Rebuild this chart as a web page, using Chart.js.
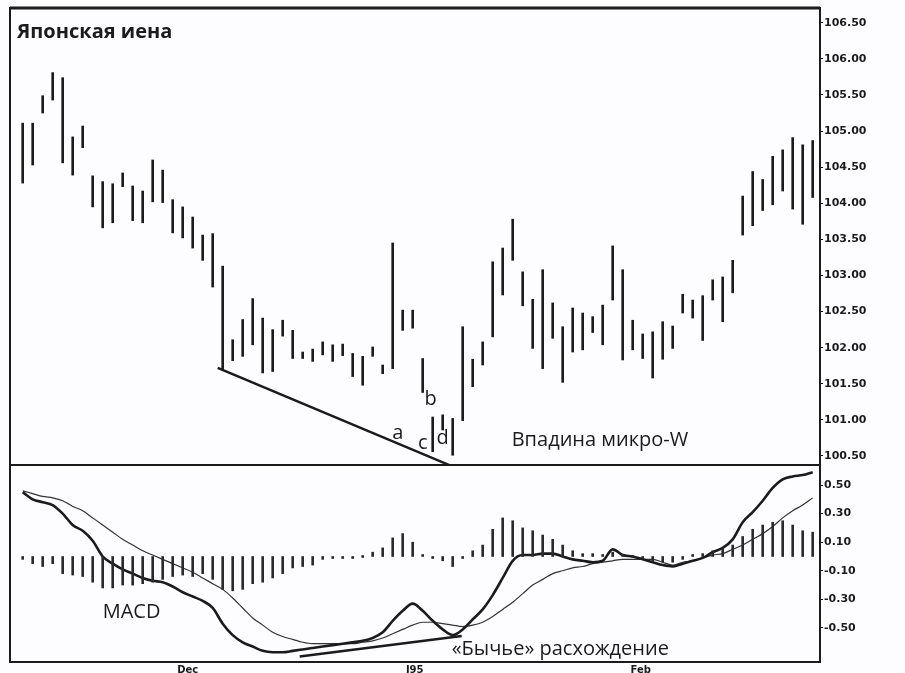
<!DOCTYPE html>
<html>
<head>
<meta charset="utf-8">
<script src="https://cdn.jsdelivr.net/npm/chart.js@4.4.1/dist/chart.umd.min.js"></script>
<style>
  body { margin: 0; background: #fdfcfe; }
  #wrap { position: relative; width: 905px; height: 673px; overflow: hidden; }
  canvas { position: absolute; left: 0; }
</style>
</head>
<body>
<div id="wrap">
  <canvas id="priceChart" width="905" height="466" style="top:0"></canvas>
  <canvas id="macdChart" width="905" height="208" style="top:465px"></canvas>
</div>
<script>
// daily bars, index 0..79
const priceHigh = [105.11, 105.11, 105.49, 105.81, 105.74, 104.92, 105.07, 104.38, 104.30, 104.27,
  104.42, 104.24, 104.17, 104.60, 104.46, 104.05, 103.95, 103.81, 103.56, 103.58,
  103.13, 102.11, 102.39, 102.68, 102.41, 102.25, 102.38, 102.24, 101.94, 101.98,
  102.08, 102.04, 102.05, 101.92, 101.88, 102.01, 101.76, 103.45, 102.52, 102.52,
  101.85, 101.04, 101.07, 101.02, 102.29, 101.84, 102.08, 103.19, 103.38, 103.78,
  103.05, 102.67, 103.08, 102.62, 102.29, 102.55, 102.48, 102.43, 102.59, 103.41,
  103.08, 102.38, 102.19, 102.22, 102.36, 102.30, 102.74, 102.66, 102.72, 102.94,
  102.98, 103.21, 104.10, 104.44, 104.33, 104.65, 104.74, 104.91, 104.81, 104.87];
const priceLow = [104.28, 104.53, 105.25, 105.43, 104.56, 104.39, 104.77, 103.95, 103.66, 103.73,
  104.23, 103.76, 103.73, 104.02, 104.01, 103.59, 103.52, 103.38, 103.21, 102.84,
  101.70, 101.82, 101.88, 102.04, 101.65, 101.67, 102.16, 101.85, 101.85, 101.81,
  101.90, 101.81, 101.89, 101.60, 101.48, 101.88, 101.64, 101.71, 102.24, 102.27,
  101.38, 100.56, 100.86, 100.51, 100.99, 101.46, 101.76, 102.15, 102.73, 103.21,
  102.58, 101.99, 101.71, 102.13, 101.52, 101.94, 101.97, 102.21, 102.04, 102.66,
  101.83, 101.97, 101.85, 101.58, 101.84, 101.99, 102.48, 102.41, 102.10, 102.66,
  102.36, 102.76, 103.56, 103.69, 103.90, 103.98, 104.17, 103.92, 103.71, 104.08];

const macdLine = [0.45, 0.40, 0.38, 0.36, 0.30, 0.22, 0.18, 0.11, 0.00, -0.05,
  -0.09, -0.12, -0.15, -0.17, -0.18, -0.21, -0.25, -0.28, -0.31, -0.36,
  -0.47, -0.55, -0.60, -0.63, -0.66, -0.67, -0.67, -0.66, -0.65, -0.64,
  -0.63, -0.62, -0.61, -0.60, -0.59, -0.57, -0.53, -0.45, -0.38, -0.33,
  -0.38, -0.45, -0.51, -0.55, -0.51, -0.44, -0.37, -0.27, -0.15, -0.03,
  0.01, 0.01, 0.02, 0.02, 0.00, -0.02, -0.03, -0.04, -0.03, 0.05,
  0.01, 0.00, -0.02, -0.04, -0.06, -0.07, -0.05, -0.03, -0.01, 0.03,
  0.06, 0.12, 0.24, 0.31, 0.39, 0.48, 0.54, 0.56, 0.57, 0.59];
const signalLine = [0.46, 0.44, 0.42, 0.41, 0.39, 0.35, 0.32, 0.27, 0.22, 0.17,
  0.12, 0.08, 0.04, 0.01, -0.02, -0.05, -0.08, -0.11, -0.15, -0.19,
  -0.23, -0.29, -0.36, -0.43, -0.48, -0.53, -0.56, -0.58, -0.60, -0.61,
  -0.61, -0.61, -0.61, -0.61, -0.60, -0.59, -0.57, -0.54, -0.51, -0.48,
  -0.46, -0.46, -0.47, -0.48, -0.49, -0.48, -0.46, -0.42, -0.37, -0.32,
  -0.26, -0.20, -0.16, -0.12, -0.10, -0.08, -0.07, -0.05, -0.04, -0.03,
  -0.02, -0.02, -0.02, -0.02, -0.04, -0.06, -0.04, -0.03, -0.01, 0.01,
  0.02, 0.05, 0.08, 0.12, 0.16, 0.21, 0.27, 0.32, 0.36, 0.41];
const histogram = [-0.02, -0.05, -0.07, -0.05, -0.12, -0.13, -0.14, -0.18, -0.22, -0.22,
  -0.20, -0.20, -0.19, -0.18, -0.16, -0.14, -0.13, -0.14, -0.12, -0.16,
  -0.23, -0.24, -0.23, -0.19, -0.18, -0.15, -0.12, -0.08, -0.07, -0.06,
  -0.02, -0.01, -0.01, -0.01, 0.00, 0.03, 0.06, 0.13, 0.16, 0.10,
  0.01, -0.01, -0.03, -0.07, -0.01, 0.04, 0.08, 0.19, 0.27, 0.25,
  0.20, 0.18, 0.15, 0.12, 0.08, 0.04, 0.02, 0.02, 0.01, 0.03,
  0.01, 0.00, -0.01, -0.03, -0.04, -0.04, -0.02, 0.01, 0.02, 0.04,
  0.06, 0.08, 0.14, 0.19, 0.22, 0.24, 0.25, 0.22, 0.18, 0.17];

// trend lines (bar index, value)
const priceTrend = [{ x: 19.5, y: 101.72 }, { x: 42.9, y: 100.36 }];
const macdTrend = [{ x: 27.7, y: -0.70 }, { x: 43.9, y: -0.556 }];

const priceTicks = [100.5, 101, 101.5, 102, 102.5, 103, 103.5, 104, 104.5, 105, 105.5, 106, 106.5];
const macdTicks = [0.5, 0.3, 0.1, -0.1, -0.3, -0.5];
const monthPos = [16.5, 39.2, 61.8];
const monthLabels = ['Dec', 'J95', 'Feb'];

const INK = '#1b1b1b';
const X_MIN = -1.27, X_MAX = 79.73;
const tickFont = { family: 'DejaVu Sans', weight: 'bold', size: 11 };

// text notes placed in data coordinates
const priceNotes = [
  { text: 'a', x: 37.5, y: 100.82, align: 'center' },
  { text: 'b', x: 40.8, y: 101.28, align: 'center' },
  { text: 'c', x: 40.0, y: 100.68, align: 'center' },
  { text: 'd', x: 42.0, y: 100.74, align: 'center' },
  { text: 'Впадина микро-W', x: 48.9, y: 100.72, align: 'left' }
];
const macdNotes = [
  { text: 'MACD', x: 8.0, y: -0.39, align: 'left' },
  { text: '«Бычье» расхождение', x: 42.9, y: -0.647, align: 'left' }
];

// keep the plot area flush with the canvas edges
function fitAxis(width) {
  return s => {
    if (width) s.width = width;
    s.paddingTop = 0;
    s.paddingBottom = 0;
    s.paddingLeft = 0;
    s.paddingRight = 0;
  };
}

function notesPlugin(notes, title) {
  return {
    id: 'notes',
    afterDraw(chart) {
      const { ctx, chartArea: a, scales } = chart;
      ctx.save();
      ctx.strokeStyle = INK;
      ctx.lineWidth = 2;
      ctx.strokeRect(a.left, a.top, a.right - a.left, a.bottom - a.top);
      ctx.fillStyle = INK;
      ctx.textBaseline = 'middle';
      ctx.font = '20px "Open Sans"';
      notes.forEach(n => {
        ctx.textAlign = n.align;
        ctx.fillText(n.text, scales.x.getPixelForValue(n.x), scales.y.getPixelForValue(n.y));
      });
      if (title) {
        ctx.lineWidth = 3;
        ctx.beginPath();
        ctx.moveTo(a.left, a.top);
        ctx.lineTo(a.right, a.top);
        ctx.stroke();
        ctx.font = 'bold 20px "Open Sans"';
        ctx.textAlign = 'left';
        ctx.fillText(title, a.left + 7, a.top + 24);
      }
      ctx.restore();
    }
  };
}

const idx = priceHigh.map((_, i) => i);

new Chart(document.getElementById('priceChart'), {
  type: 'bar',
  data: {
    datasets: [
      {
        data: idx.map(i => ({ x: i, y: [priceLow[i], priceHigh[i]] })),
        backgroundColor: INK,
        barThickness: 2
      },
      {
        type: 'line',
        data: priceTrend,
        borderColor: INK,
        borderWidth: 2.5,
        pointRadius: 0
      }
    ]
  },
  options: {
    responsive: false,
    animation: false,
    layout: { padding: { left: 10, top: 8, right: 0, bottom: 1 } },
    plugins: { legend: { display: false }, tooltip: { enabled: false } },
    scales: {
      x: { type: 'linear', min: X_MIN, max: X_MAX, offset: false, display: false },
      y: {
        position: 'right',
        min: 100.375,
        max: 106.705,
        afterBuildTicks: s => { s.ticks = priceTicks.map(v => ({ value: v })); },
        afterFit: fitAxis(85),
        ticks: { color: INK, font: tickFont, padding: 1, callback: v => v.toFixed(2) },
        grid: { drawOnChartArea: false, tickLength: 3, color: INK },
        border: { display: false }
      }
    }
  },
  plugins: [notesPlugin(priceNotes, 'Японская иена')]
});

new Chart(document.getElementById('macdChart'), {
  type: 'bar',
  data: {
    datasets: [
      {
        data: idx.map(i => ({ x: i, y: histogram[i] })),
        backgroundColor: '#2a2a2a',
        barThickness: 2,
        minBarLength: 2
      },
      {
        type: 'line',
        data: idx.map(i => ({ x: i, y: macdLine[i] })),
        borderColor: INK,
        borderWidth: 2.6,
        pointRadius: 0,
        cubicInterpolationMode: 'monotone'
      },
      {
        type: 'line',
        data: idx.map(i => ({ x: i, y: signalLine[i] })),
        borderColor: '#333',
        borderWidth: 1.2,
        pointRadius: 0,
        cubicInterpolationMode: 'monotone'
      },
      {
        type: 'line',
        data: macdTrend,
        borderColor: INK,
        borderWidth: 2.5,
        pointRadius: 0
      }
    ]
  },
  options: {
    responsive: false,
    animation: false,
    layout: { padding: { left: 10, top: 0, right: 0, bottom: 0 } },
    plugins: { legend: { display: false }, tooltip: { enabled: false } },
    scales: {
      x: {
        type: 'linear', min: X_MIN, max: X_MAX, offset: false,
        afterBuildTicks: s => { s.ticks = monthPos.map(v => ({ value: v })); },
        afterFit: s => { s.height = 11; s.paddingLeft = 0; s.paddingRight = 0; },
        ticks: {
          color: INK, font: { family: 'DejaVu Sans', weight: 'bold', size: 10 }, padding: 2, maxRotation: 0,
          callback: v => monthLabels[monthPos.indexOf(v)]
        },
        grid: { display: false, drawTicks: false },
        border: { display: false }
      },
      y: {
        position: 'right',
        min: -0.738,
        max: 0.64,
        afterBuildTicks: s => { s.ticks = macdTicks.map(v => ({ value: v })); },
        afterFit: fitAxis(85),
        ticks: { color: INK, font: tickFont, padding: 1, callback: v => v.toFixed(2) },
        grid: { drawOnChartArea: false, tickLength: 3, color: INK },
        border: { display: false }
      }
    }
  },
  plugins: [notesPlugin(macdNotes, null)]
});
</script>
</body>
</html>
